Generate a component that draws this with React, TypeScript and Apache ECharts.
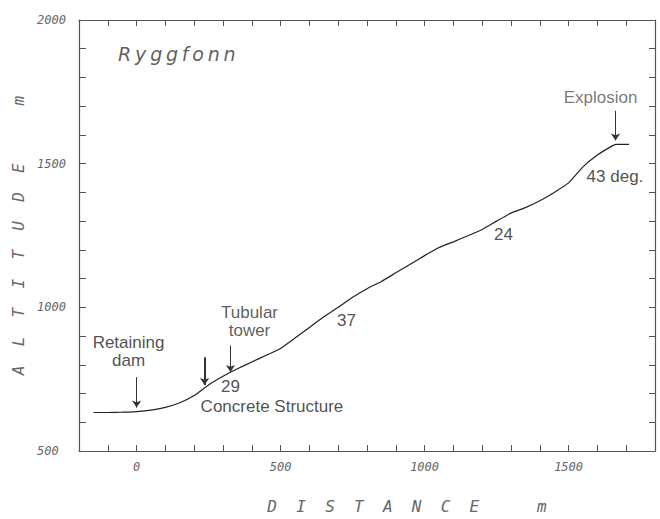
import React, { useEffect, useRef } from "react";
import * as echarts from "echarts";

const distance = [-150, -100, -50, 0, 50, 100, 150, 200, 250, 300, 350, 400, 450, 500, 550, 600, 650, 700, 750, 800, 850, 900, 950, 1000, 1050, 1100, 1150, 1200, 1250, 1300, 1350, 1400, 1450, 1500, 1550, 1600, 1650, 1665, 1710];
const altitude = [634, 634, 635, 637, 642, 652, 668, 693, 730, 760, 786, 810, 833, 857, 893, 930, 967, 1000, 1035, 1065, 1090, 1120, 1150, 1180, 1208, 1228, 1249, 1271, 1300, 1328, 1347, 1371, 1400, 1433, 1489, 1530, 1561, 1567, 1567];

const xTickLabels = [0, 500, 1000, 1500];
const yTickLabels = [500, 1000, 1500, 2000];

const annotations = [
  { text: "Explosion", x: 1611, y: 1732, color: "#555" },
  { text: "43 deg.", x: 1661, y: 1457, color: "#222" },
  { text: "24", x: 1274, y: 1252, color: "#222" },
  { text: "37", x: 729, y: 953, color: "#222" },
  { text: "Tubular\ntower", x: 392, y: 950, color: "#333" },
  { text: "Retaining\ndam", x: -28, y: 848, color: "#222" },
  { text: "29", x: 326, y: 723, color: "#222" },
  { text: "Concrete Structure", x: 470, y: 655, color: "#222" },
];

const arrows = [
  { from: [1663, 1684], to: [1663, 1581], width: 1 },
  { from: [326, 867], to: [326, 775], width: 1 },
  { from: [0, 757], to: [0, 651], width: 1 },
  { from: [236, 826], to: [236, 730], width: 2 },
];

const title = { text: "R\u2009y\u2009g\u2009g\u2009f\u2009o\u2009n\u2009n", x: -66, y: 1880 };

export default function App() {
  const ref = useRef<HTMLDivElement>(null);
  useEffect(() => {
    document.body.style.margin = "0";
    const chart = echarts.init(ref.current!, null, { renderer: "svg" });
    const axisColor = "#555";
    const monoItalic = {
      fontFamily: "DejaVu Sans Mono",
      fontStyle: "italic" as const,
      color: "#666",
    };
    const baseAxis = {
      type: "value" as const,
      splitLine: { show: false },
      axisLine: { onZero: false, lineStyle: { color: axisColor, width: 1.2 } },
    };
    chart.setOption({
      animation: false,
      backgroundColor: "#fff",
      grid: { left: 79, top: 20, right: 5, bottom: 62 },
      xAxis: [
        {
          ...baseAxis,
          position: "bottom",
          min: -200,
          max: 1800,
          interval: 100,
          axisTick: { inside: true, length: 6, lineStyle: { color: axisColor } },
          axisLabel: {
            ...monoItalic,
            fontSize: 12,
            margin: 10,
            formatter: (v: number) => (xTickLabels.includes(v) ? String(v) : ""),
          },
          name: "D  I  S  T  A  N  C  E      m",
          nameLocation: "middle",
          nameGap: 47,
          nameTextStyle: { ...monoItalic, fontSize: 16, padding: [0, 0, 0, 80] },
        },
        {
          ...baseAxis,
          position: "top",
          min: -200,
          max: 1800,
          interval: 100,
          axisTick: { inside: true, length: 6, lineStyle: { color: axisColor } },
          axisLabel: { show: false },
        },
      ],
      yAxis: [
        {
          ...baseAxis,
          position: "left",
          min: 500,
          max: 2000,
          interval: 100,
          axisTick: { inside: true, length: 7, lineStyle: { color: axisColor } },
          axisLabel: {
            ...monoItalic,
            fontSize: 12,
            align: "left",
            margin: 42,
            formatter: (v: number) => (yTickLabels.includes(v) ? String(v) : ""),
          },
          name: "A  L  T  I  T  U  D  E      m",
          nameLocation: "middle",
          nameRotate: 90,
          nameGap: 50,
          nameTextStyle: { ...monoItalic, fontSize: 16 },
        },
        {
          ...baseAxis,
          position: "right",
          min: 500,
          max: 2000,
          interval: 100,
          axisTick: { inside: true, length: 6, lineStyle: { color: axisColor } },
          axisLabel: { show: false },
        },
      ],
      series: [
        {
          type: "line",
          name: "Ryggfonn profile",
          data: distance.map((d, i) => [d, altitude[i]]),
          showSymbol: false,
          smooth: 0.15,
          lineStyle: { color: "#222", width: 1.2 },
          itemStyle: { color: "#222" },
          silent: true,
          markLine: {
            silent: true,
            symbol: ["none", "arrow"],
            symbolSize: 7,
            label: { show: false },
            data: arrows.map((a) => [
              { coord: a.from, lineStyle: { color: "#333", width: a.width, type: "solid" } },
              { coord: a.to },
            ]),
          },
        },
        {
          type: "scatter",
          name: "annotations",
          symbolSize: 1,
          silent: true,
          itemStyle: { color: "rgba(0,0,0,0)" },
          label: {
            show: true,
            position: "inside",
            formatter: "{b}",
            fontFamily: "Liberation Sans",
            fontSize: 17,
            lineHeight: 18,
            align: "center",
          },
          data: annotations.map((a) => ({
            name: a.text,
            value: [a.x, a.y],
            label: { color: a.color },
          })),
        },
        {
          type: "scatter",
          name: "title",
          symbolSize: 1,
          silent: true,
          itemStyle: { color: "rgba(0,0,0,0)" },
          label: {
            show: true,
            position: "right",
            distance: 0,
            formatter: "{b}",
            fontFamily: "DejaVu Sans",
            fontStyle: "italic",
            fontSize: 19,
            color: "#333",
          },
          data: [{ name: title.text, value: [title.x, title.y] }],
        },
      ],
    });
    return () => chart.dispose();
  }, []);
  return <div ref={ref} style={{ width: 660, height: 519 }} />;
}
